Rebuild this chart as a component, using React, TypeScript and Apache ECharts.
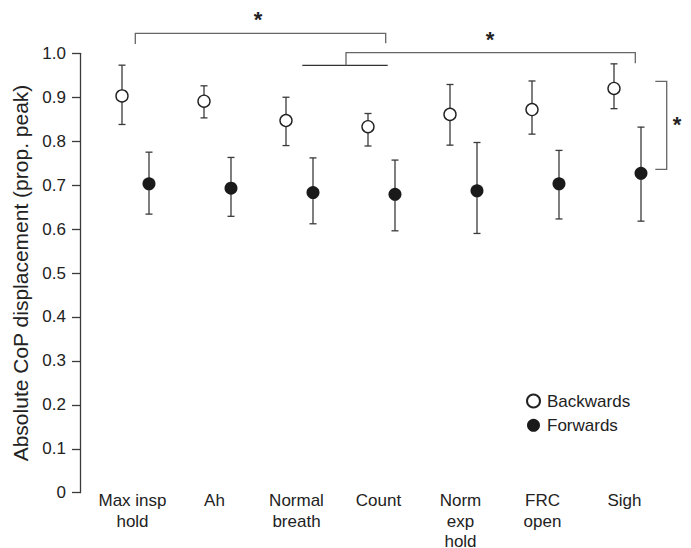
import React, { useEffect, useRef } from "react";
import * as echarts from "echarts";

const categories = ["Max insp\nhold", "Ah", "Normal\nbreath", "Count", "Norm\nexp\nhold", "FRC\nopen", "Sigh"];
const backMean = [0.903, 0.891, 0.847, 0.833, 0.861, 0.872, 0.92];
const backLow = [0.838, 0.853, 0.79, 0.789, 0.791, 0.816, 0.874];
const backHigh = [0.973, 0.926, 0.9, 0.863, 0.929, 0.937, 0.976];
const fwdMean = [0.703, 0.693, 0.683, 0.679, 0.687, 0.703, 0.727];
const fwdLow = [0.634, 0.629, 0.612, 0.596, 0.59, 0.623, 0.618];
const fwdHigh = [0.775, 0.763, 0.762, 0.757, 0.797, 0.779, 0.832];

const FONT = "'Liberation Sans', Arial, Helvetica, sans-serif";
const INK = "#222";
const LINE = "#3a3a3a";
const BRACKET = "#666";
const OFF = 13.5;

function errRender(off: number) {
  return (params: any, api: any) => {
    const i = api.value(0);
    const lo = api.coord([i, api.value(1)]);
    const hi = api.coord([i, api.value(2)]);
    const x = lo[0] + off;
    const style = { stroke: LINE, lineWidth: 1.3 };
    return {
      type: "group",
      children: [
        { type: "line", shape: { x1: x, y1: lo[1], x2: x, y2: hi[1] }, style },
        { type: "line", shape: { x1: x - 3.5, y1: lo[1], x2: x + 3.5, y2: lo[1] }, style },
        { type: "line", shape: { x1: x - 3.5, y1: hi[1], x2: x + 3.5, y2: hi[1] }, style },
      ],
    };
  };
}

export default function App() {
  const ref = useRef<HTMLDivElement>(null);
  useEffect(() => {
    document.body.style.margin = "0";
    const chart = echarts.init(ref.current!, null, { renderer: "svg" });
    const bs = { stroke: BRACKET, lineWidth: 1.3, fill: null as any };
    const star = (x: number, y: number) => ({
      type: "text",
      x,
      y,
      style: { text: "*", fontSize: 22, fontWeight: "bold", fill: INK, fontFamily: FONT, align: "center", verticalAlign: "middle" },
    });
    chart.setOption({
      animation: false,
      textStyle: { fontFamily: FONT },
      grid: { left: 94.5, right: 22.5, top: 53.3, bottom: 55.3, containLabel: false, outerBoundsMode: "none" },
      legend: {
        data: ["Backwards", "Forwards"],
        orient: "vertical",
        left: 526,
        top: 392.5,
        padding: 0,
        itemWidth: 13,
        itemHeight: 13,
        itemGap: 7.3,
        textStyle: { fontSize: 17, color: INK, fontFamily: FONT, padding: [0, 0, 0, 2] },
      },
      xAxis: {
        type: "category",
        data: categories,
        boundaryGap: true,
        axisLine: { show: false },
        axisTick: { show: false },
        axisLabel: { interval: 0, fontSize: 17, lineHeight: 20.5, margin: -2, color: INK, fontFamily: FONT, padding: [0, 6, 0, 0] },
      },
      yAxis: {
        type: "value",
        min: 0,
        max: 1,
        interval: 0.1,
        offset: 14.5,
        name: "Absolute CoP displacement (prop. peak)",
        nameLocation: "middle",
        nameGap: 44.5,
        nameTextStyle: { fontSize: 21, color: INK, fontFamily: FONT },
        splitLine: { show: false },
        axisLine: { show: true, lineStyle: { color: LINE, width: 1.3 } },
        axisTick: { show: true, length: 8, lineStyle: { color: LINE, width: 1.3 } },
        axisLabel: {
          fontSize: 17,
          color: INK,
          margin: 14,
          fontFamily: FONT,
          formatter: (v: number) => (v === 0 ? "0" : v.toFixed(1)),
        },
      },
      series: [
        {
          name: "BackErr",
          type: "custom",
          renderItem: errRender(-OFF),
          encode: { x: 0, y: [1, 2] },
          data: categories.map((_, i) => [i, backLow[i], backHigh[i]]),
          z: 2,
        },
        {
          name: "ForErr",
          type: "custom",
          renderItem: errRender(OFF),
          encode: { x: 0, y: [1, 2] },
          data: categories.map((_, i) => [i, fwdLow[i], fwdHigh[i]]),
          z: 2,
        },
        {
          name: "Backwards",
          type: "scatter",
          symbol: "circle",
          symbolSize: 12,
          symbolOffset: [-OFF, 0],
          itemStyle: { color: "#fff", borderColor: "#222", borderWidth: 1.4, opacity: 1 },
          data: categories.map((_, i) => [i, backMean[i]]),
          z: 3,
        },
        {
          name: "Forwards",
          type: "scatter",
          symbol: "circle",
          symbolSize: 13,
          symbolOffset: [OFF, 0],
          itemStyle: { color: "#1a1a1a", borderColor: "#1a1a1a", borderWidth: 0, opacity: 1 },
          data: categories.map((_, i) => [i, fwdMean[i]]),
          z: 3,
        },
      ],
      graphic: [
        { type: "polyline", shape: { points: [[135.3, 44], [135.3, 33.3], [385.7, 33.3], [385.7, 43.3]] }, style: bs },
        { type: "line", shape: { x1: 302.3, y1: 65.3, x2: 387.7, y2: 65.3 }, style: { stroke: "#333", lineWidth: 1.3 } },
        { type: "polyline", shape: { points: [[346, 65.3], [346, 52.7], [635.3, 52.7], [635.3, 63.3]] }, style: bs },
        { type: "polyline", shape: { points: [[655.3, 81.3], [666.7, 81.3], [666.7, 169.3], [655.3, 169.3]] }, style: bs },
        star(258, 19),
        star(490, 39.3),
        star(677, 124),
      ],
    });
    return () => chart.dispose();
  }, []);
  return <div ref={ref} style={{ width: 691, height: 548 }} />;
}
